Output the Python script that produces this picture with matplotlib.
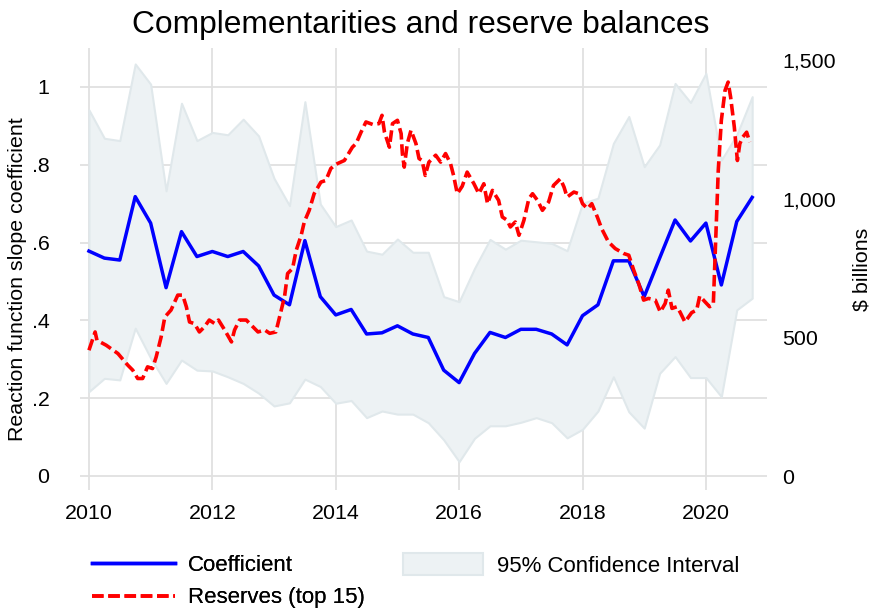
import matplotlib
matplotlib.use('Agg')
import matplotlib.pyplot as plt
import numpy as np
from matplotlib.patches import Patch
from matplotlib.lines import Line2D

plt.rcParams['font.family'] = ['Liberation Sans', 'DejaVu Sans']

# ---------------- data ----------------
quarters = np.arange(2010, 2021, 0.25)  # 2010Q1 .. 2020Q4

coef = [0.578, 0.560, 0.555, 0.718, 0.650, 0.484, 0.628, 0.564,
        0.577, 0.564, 0.577, 0.540, 0.465, 0.440, 0.605, 0.461,
        0.414, 0.428, 0.365, 0.368, 0.386, 0.365, 0.356, 0.272,
        0.240, 0.315, 0.369, 0.356, 0.377, 0.377, 0.365, 0.337,
        0.412, 0.440, 0.553, 0.553, 0.461, 0.560, 0.658, 0.604,
        0.650, 0.491, 0.654, 0.716]

ci_upper = [0.941, 0.868, 0.862, 1.059, 1.007, 0.733, 0.958, 0.862,
            0.883, 0.877, 0.917, 0.874, 0.765, 0.695, 0.962, 0.699,
            0.641, 0.658, 0.578, 0.570, 0.609, 0.575, 0.575, 0.461,
            0.448, 0.534, 0.608, 0.583, 0.606, 0.602, 0.598, 0.579,
            0.701, 0.714, 0.855, 0.924, 0.795, 0.851, 1.009, 0.960,
            1.035, 0.812, 0.877, 0.975]

ci_lower = [0.217, 0.251, 0.247, 0.380, 0.303, 0.238, 0.298, 0.272,
            0.270, 0.255, 0.238, 0.213, 0.180, 0.188, 0.249, 0.230,
            0.187, 0.194, 0.150, 0.167, 0.159, 0.159, 0.137, 0.093,
            0.037, 0.097, 0.129, 0.129, 0.138, 0.150, 0.137, 0.098,
            0.120, 0.167, 0.255, 0.165, 0.123, 0.264, 0.307, 0.253,
            0.253, 0.204, 0.427, 0.457]

res_dates = [2010.00, 2010.10, 2010.13, 2010.28, 2010.47, 2010.63, 2010.71, 2010.79,
             2010.87, 2010.95, 2011.03, 2011.09, 2011.17, 2011.23, 2011.33, 2011.44,
             2011.52, 2011.58, 2011.63, 2011.71, 2011.79, 2011.87, 2011.95, 2012.04,
             2012.10, 2012.20, 2012.31, 2012.36, 2012.44, 2012.55, 2012.63, 2012.74,
             2012.85, 2012.93, 2013.03, 2013.09, 2013.17, 2013.22, 2013.30, 2013.36,
             2013.44, 2013.49, 2013.57, 2013.65, 2013.76, 2013.84, 2013.92, 2014.00,
             2014.14, 2014.27, 2014.33, 2014.41, 2014.49, 2014.60, 2014.70, 2014.75,
             2014.79, 2014.87, 2014.92, 2015.00, 2015.06, 2015.08, 2015.11, 2015.16,
             2015.22, 2015.30, 2015.35, 2015.40, 2015.45, 2015.51, 2015.62, 2015.70,
             2015.78, 2015.86, 2015.91, 2015.97, 2016.05, 2016.13, 2016.24, 2016.32,
             2016.40, 2016.46, 2016.54, 2016.64, 2016.70, 2016.78, 2016.83, 2016.91,
             2016.97, 2017.05, 2017.13, 2017.19, 2017.27, 2017.35, 2017.45, 2017.53,
             2017.64, 2017.70, 2017.75, 2017.86, 2017.94, 2018.00, 2018.08, 2018.15,
             2018.24, 2018.31, 2018.42, 2018.53, 2018.67, 2018.75, 2018.83, 2018.91,
             2018.99, 2019.07, 2019.18, 2019.26, 2019.34, 2019.39, 2019.45, 2019.53,
             2019.58, 2019.66, 2019.77, 2019.85, 2019.90, 2019.98, 2020.06, 2020.12,
             2020.14, 2020.20, 2020.25, 2020.31, 2020.36, 2020.40, 2020.46, 2020.51,
             2020.55, 2020.60, 2020.66, 2020.71]

reserves = [454, 520, 490, 472, 442, 400, 382, 352,
            352, 394, 388, 430, 502, 574, 599, 653,
            653, 610, 556, 550, 520, 538, 563, 550,
            563, 527, 484, 527, 563, 563, 545, 520,
            527, 515, 520, 574, 647, 731, 749, 815,
            869, 917, 959, 1019, 1061, 1067, 1110, 1125,
            1139, 1187, 1200, 1241, 1278, 1269, 1272, 1302,
            1241, 1187, 1272, 1284, 1236, 1164, 1115, 1200,
            1248, 1200, 1146, 1139, 1085, 1133, 1158, 1133,
            1164, 1128, 1085, 1019, 1046, 1097, 1055, 1019,
            1055, 983, 1031, 995, 935, 923, 899, 917,
            869, 923, 1001, 1019, 995, 959, 989, 1049,
            1073, 1043, 1007, 1025, 1019, 983, 965, 983,
            935, 893, 845, 821, 803, 797, 743, 695,
            635, 641, 635, 592, 623, 671, 605, 611,
            592, 556, 590, 599, 650, 630, 611, 620,
            743, 1103, 1284, 1392, 1422, 1368, 1260, 1139,
            1200, 1224, 1241, 1205]

x_ticks = [2010, 2012, 2014, 2016, 2018, 2020]
left_ticks = [0, 0.2, 0.4, 0.6, 0.8, 1.0]
left_labels = ['0', '.2', '.4', '.6', '.8', '1']
right_ticks = [0, 500, 1000, 1500]
right_labels = ['0', '500', '1,000', '1,500']

# ---------------- figure ----------------
fig = plt.figure(figsize=(8.71, 6.09), dpi=100)
ax = fig.add_axes([80/871, 1 - 490/609, (767-80)/871, (490-48)/609])

band_face = '#edf2f4'
band_edge = '#e0e8eb'
ax.fill_between(quarters, ci_lower, ci_upper, facecolor=band_face,
                edgecolor=band_edge, linewidth=1.5, zorder=2)
ax.plot(quarters, coef, color='#0000ff', linewidth=2.5, zorder=4)

ax.set_xlim(2009.855, 2020.99)
ax.set_ylim(-0.036, 1.100)
ax.set_xticks(x_ticks)
ax.set_yticks(left_ticks)
ax.set_yticklabels(left_labels)
ax.grid(True, color='#e0e0e0', linewidth=1.3, zorder=0)
ax.set_axisbelow(True)
for s in ax.spines.values():
    s.set_visible(False)
ax.tick_params(axis='both', length=0, labelsize=15.4)
ax.tick_params(axis='y', pad=22)
ax.tick_params(axis='x', pad=10)
ax.set_ylabel('Reaction function slope coefficient', fontsize=15.4)
ax.yaxis.set_label_coords((27 - 80) / 687, (490 - 279) / 442)

ax2 = ax.twinx()
ax2.plot(res_dates, reserves, color='#ff0000', linewidth=2.6,
         dashes=(3.2, 1.3), zorder=5)
ax2.set_ylim(-50.5, 1545)
ax2.set_yticks(right_ticks)
ax2.set_yticklabels(right_labels)
for s in ax2.spines.values():
    s.set_visible(False)
ax2.tick_params(axis='y', length=0, labelsize=15.4, pad=11)
ax2.set_ylabel('$ billions', fontsize=15.4, labelpad=12)

fig.text(420.5/871, 1 - 33/609, 'Complementarities and reserve balances',
         fontsize=22.9, ha='center', va='baseline')

# ---------------- legends ----------------
h_coef = Line2D([], [], color='#0000ff', linewidth=2.5)
h_res = Line2D([], [], color='#ff0000', linewidth=2.6, dashes=(3.2, 1.3))
h_ci = Patch(facecolor=band_face, edgecolor=band_edge, linewidth=1.5)

leg1 = fig.legend([h_coef, h_res], ['Coefficient', 'Reserves (top 15)'],
                  loc='center left', bbox_to_anchor=(92/871, 1 - 581.5/609),
                  frameon=False, fontsize=16, handlelength=3.74,
                  handletextpad=0.59, labelspacing=0.52, borderpad=0,
                  borderaxespad=0)
leg2 = fig.legend([h_ci], ['95% Confidence Interval'],
                  loc='center left', bbox_to_anchor=(403/871, 1 - 565/609),
                  frameon=False, fontsize=16, handlelength=3.6,
                  handleheight=1.08, handletextpad=0.63, borderpad=0,
                  borderaxespad=0)
fig.add_artist(leg1)

fig.savefig('out.png', dpi=100)
